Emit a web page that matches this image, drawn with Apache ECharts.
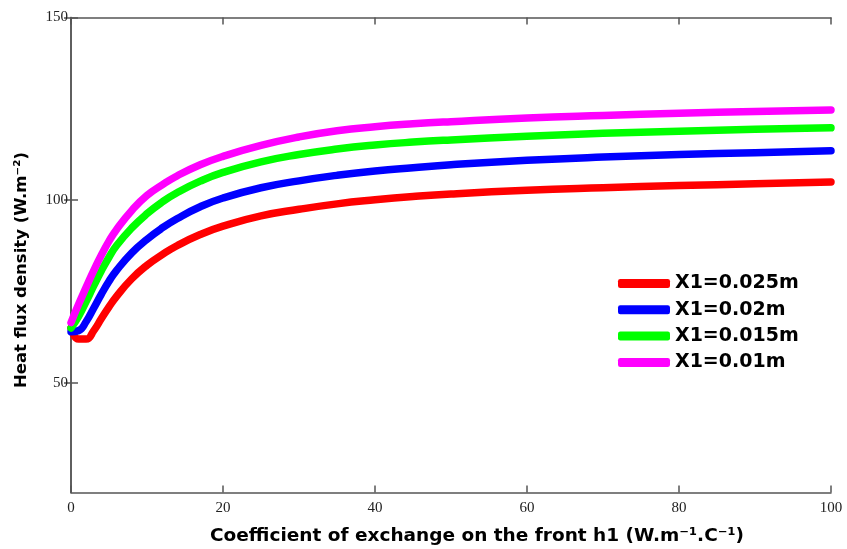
<!DOCTYPE html>
<html>
<head>
<meta charset="utf-8">
<script src="https://cdn.jsdelivr.net/npm/echarts@6/dist/echarts.min.js"></script>
<style>html,body{margin:0;padding:0;background:#fff}#c{width:847px;height:549px}</style>
</head>
<body>
<div id="c"></div>
<script>
// Coefficient of exchange h1 (x values)
const h1 = [0, 1, 2, 3, 4, 5, 6, 8, 10, 12, 14, 17, 20, 25, 30, 35, 40, 45, 50, 60, 70, 80, 90, 100];
// Heat flux density for each X1
const x1_025 = [65, 62, 62, 64.3, 67.6, 70.8, 73.7, 78.5, 82.2, 85.1, 87.6, 90.6, 92.9, 95.7, 97.5, 99, 100.1, 101, 101.7, 102.7, 103.4, 104, 104.5, 105];
const x1_020 = [64, 64.3, 66.8, 70.5, 74.3, 77.8, 80.8, 85.6, 89.3, 92.4, 95, 98.2, 100.6, 103.4, 105.3, 106.8, 108, 108.9, 109.7, 110.9, 111.8, 112.5, 113, 113.5];
const x1_015 = [65, 68.2, 72.3, 76.6, 80.7, 84.4, 87.6, 92.4, 96.3, 99.5, 102.1, 105.2, 107.6, 110.5, 112.5, 114, 115.1, 115.9, 116.5, 117.5, 118.3, 118.9, 119.4, 119.8];
const x1_010 = [66.5, 71.5, 76.2, 80.8, 85, 88.8, 92, 97.2, 101.3, 104.2, 106.7, 109.7, 112, 115, 117.3, 119, 120.1, 120.9, 121.5, 122.5, 123.2, 123.8, 124.3, 124.7];
const seriesNames = ['X1=0.025m', 'X1=0.02m', 'X1=0.015m', 'X1=0.01m'];
const seriesColors = ['#ff0000', '#0000ff', '#00ff00', '#ff00ff'];
const xTicks = [0, 20, 40, 60, 80, 100];
const yTicks = [50, 100, 150];
const xTitle = 'Coefficient of exchange on the front h1 (W.m\u207B\u00B9.C\u207B\u00B9)';
const yTitle = 'Heat flux density (W.m\u207B\u00B2)';

const values = [x1_025, x1_020, x1_015, x1_010];
const chart = echarts.init(document.getElementById('c'), null, {renderer: 'canvas'});
const axisColor = '#555';
const labelFont = {fontFamily: 'Liberation Serif', fontSize: 15, color: '#222'};

const series = values.map((arr, i) => ({
  name: seriesNames[i],
  type: 'line',
  xAxisIndex: 0, yAxisIndex: 0,
  data: arr.map((v, j) => [h1[j], v]),
  showSymbol: false,
  smooth: 0.5,
  lineStyle: {color: seriesColors[i], width: 7.5, cap: 'round', join: 'round'},
  itemStyle: {color: seriesColors[i]},
  z: 2 + i
}));

chart.setOption({
  animation: false,
  backgroundColor: '#fff',
  grid: {left: 71, right: 16, top: 17.5, bottom: 56.5, show: false},
  legend: {
    orient: 'vertical', left: 618, top: 274, padding: 0,
    itemWidth: 52, itemHeight: 9, itemGap: 7.3, icon: 'roundRect',
    data: seriesNames,
    textStyle: {fontFamily: 'DejaVu Sans', fontWeight: 'bold', fontSize: 19, color: '#000', lineHeight: 18}
  },
  xAxis: [{
    type: 'value', min: 0, max: 100, interval: 20, position: 'bottom',
    axisLine: {show: true, lineStyle: {color: axisColor, width: 1.5}},
    axisTick: {show: true, inside: true, length: 7, lineStyle: {color: axisColor, width: 1.5}},
    axisLabel: Object.assign({margin: 8, customValues: xTicks}, labelFont),
    splitLine: {show: false}
  }, {
    type: 'value', min: 0, max: 100, interval: 20, position: 'top',
    axisLine: {show: true, lineStyle: {color: axisColor, width: 1.5}},
    axisTick: {show: true, inside: true, length: 7, lineStyle: {color: axisColor, width: 1.5}},
    axisLabel: {show: false}, splitLine: {show: false}
  }],
  yAxis: [{
    type: 'value', min: 20, max: 150, position: 'left',
    axisLine: {show: true, lineStyle: {color: axisColor, width: 1.5}},
    axisTick: {show: true, inside: true, length: 7, customValues: yTicks, lineStyle: {color: axisColor, width: 1.5}},
    axisLabel: Object.assign({margin: 3, customValues: yTicks}, labelFont),
    splitLine: {show: false}
  }, {
    type: 'value', min: 20, max: 150, position: 'right',
    axisLine: {show: true, lineStyle: {color: axisColor, width: 1.5}},
    axisTick: {show: true, inside: true, length: 7, customValues: yTicks, lineStyle: {color: axisColor, width: 1.5}},
    axisLabel: {show: false}, splitLine: {show: false}
  }],
  graphic: [{
    type: 'text', x: 477, y: 536,
    style: {text: xTitle, align: 'center', verticalAlign: 'middle', font: 'bold 18.5px "DejaVu Sans"', fill: '#000'}
  }, {
    type: 'text', x: 22, y: 270, rotation: Math.PI / 2,
    style: {text: yTitle, align: 'center', verticalAlign: 'middle', font: 'bold 16.5px "DejaVu Sans"', fill: '#000'}
  }],
  series: series
});
</script>
</body>
</html>
